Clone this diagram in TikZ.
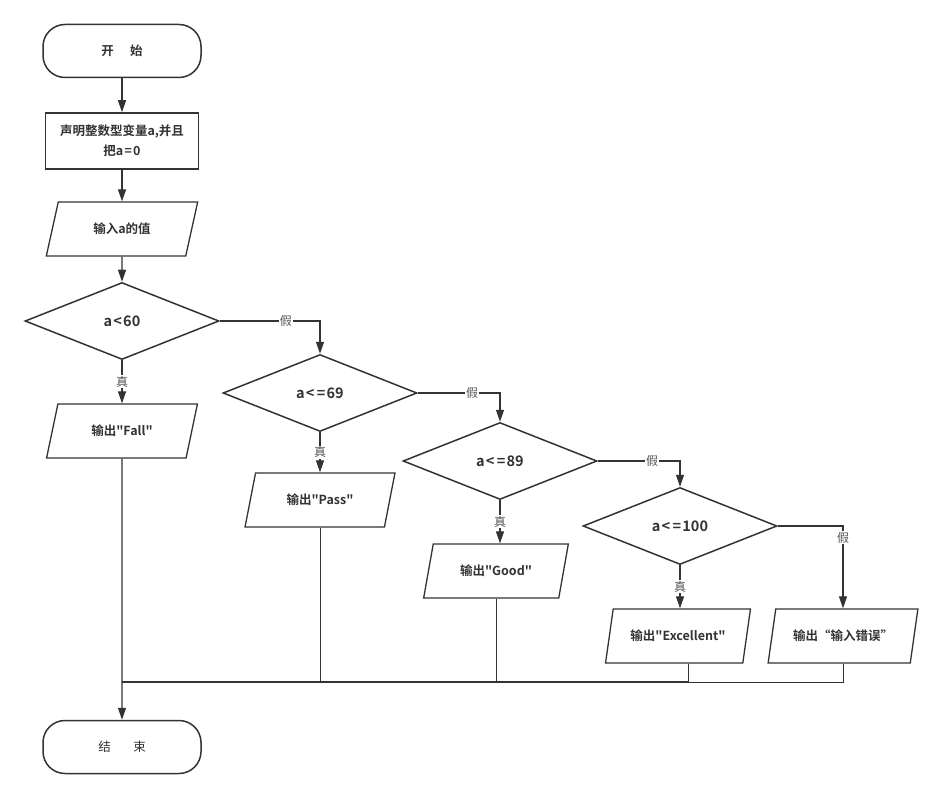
\documentclass[tikz,border=0pt]{standalone}
\usepackage{fontspec}
\setmainfont{Noto Sans CJK SC}[BoldFont={Noto Sans CJK SC Bold}, Ligatures=TeXOff]
\usepackage{tikz}
\usetikzlibrary{shapes.geometric, arrows.meta, positioning, calc}
\definecolor{linegray}{HTML}{333333}
\definecolor{labelgray}{HTML}{555555}
\newcommand{\op}[1]{\kern1.2pt#1\kern1.2pt}

\begin{document}
\begin{tikzpicture}[x=1pt, y=-1pt, font=\fontsize{12.5}{16}\selectfont\bfseries,
  every node/.style={text=linegray},
  terminal/.style={draw=linegray, line width=1.5pt, rounded corners=22pt, minimum width=158pt, minimum height=53pt},
  process/.style={draw=linegray, line width=1.5pt, minimum width=153pt, minimum height=56pt, align=center},
  io/.style={trapezium, trapezium left angle=72, trapezium right angle=108, trapezium stretches=true,
    draw=linegray, line width=1.3pt, minimum height=54pt},
  decision/.style={diamond, draw=linegray, line width=1.5pt, minimum width=194pt, minimum height=77pt, inner sep=0pt,
    font=\fontsize{14.5}{17}\selectfont\bfseries},
  flow/.style={draw=linegray, line width=1.3pt, -{Triangle[width=8pt,length=12pt]}},
  merge/.style={draw=linegray, line width=1pt},
  bus/.style={draw=linegray, line width=2.2pt},
  tag/.style={font=\fontsize{12}{14}\selectfont, fill=white, inner sep=1pt, text=labelgray}]

  \useasboundingbox (0,0) rectangle (944,799);

  \node[terminal] (start) at (122,51) {开\hspace{1.3em}始};
  \node[process] (decl) at (122,141) {声明整数型变量a,并且\\[4pt]把a\op{=}0};
  \node[io, minimum width=152pt] (input) at (122,229) {输入a的值};

  % decisions
  \foreach \n/\x/\y/\t in {c1/122/321/a\op{<}60, c2/320/393/a\op{<}\op{=}69, c3/500/461/a\op{<}\op{=}89, c4/680/526/a\op{<}\op{=}100}
    \node[decision] (\n) at (\x,\y) {\t};

  % outputs
  \foreach \n/\x/\y/\w/\t in {o1/122/431/152/输出"Fall", o2/320/500/151/输出"Pass", o3/496/571/145/输出"Good",
      o4/678/636/145/输出"Excellent", o5/843/636/150/输出“输入错误”}
    \node[io, minimum width=\w pt] (\n) at (\x,\y) {\t};

  \node[terminal, font=\fontsize{12.5}{16}\selectfont] (finish) at (122,747) {结\hspace{1.8em}束};

  \draw[flow] (start) -- (decl);
  \draw[flow] (decl) -- (input);
  \draw[flow] (input) -- (c1);
  \foreach \a/\b in {c1/o1, c2/o2, c3/o3, c4/o4}
    \draw[flow] (\a.south) -- node[tag] {真} (\a.south |- \b.north);
  \foreach \a/\b in {c1/c2, c2/c3, c3/c4}
    \draw[flow] (\a.east) -| node[tag, pos=0.33] {假} (\b.north);
  \draw[flow] (c4.east) -| node[tag, pos=0.57] {假} (o5.north);

  % collect to the end
  \coordinate (join) at (122,682);
  \coordinate (o4out) at ($(o4.south)+(10,0)$);
  \foreach \o in {o2.south, o3.south, o4out, o5.south}
    \draw[merge] (\o) |- (join);
  \draw[bus] (join) -- (join -| o4out);
  \draw[flow] (o1.south) -- (finish.north);
\end{tikzpicture}
\end{document}
